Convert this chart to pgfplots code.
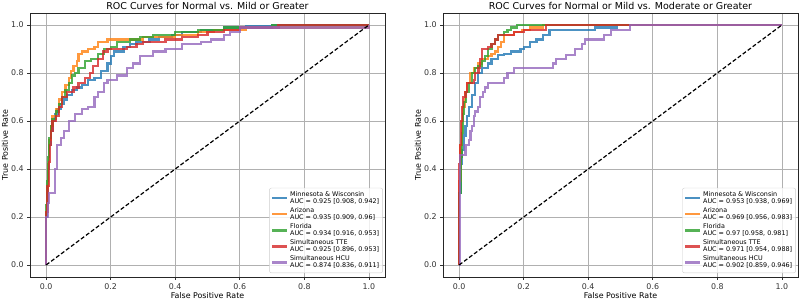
\documentclass[border=0pt]{standalone}
\usepackage{pgfplots}
\pgfplotsset{compat=1.18}
\usepackage{fontspec}
\setmainfont{DejaVu Sans}
\definecolor{tabblue}{HTML}{1F77B4}
\definecolor{taborange}{HTML}{FF7F0E}
\definecolor{tabgreen}{HTML}{2CA02C}
\definecolor{tabred}{HTML}{D62728}
\definecolor{tabpurple}{HTML}{9467BD}
\definecolor{gridgray}{HTML}{B0B0B0}
\begin{document}
\begin{tikzpicture}
\pgfplotsset{rocaxis/.style={
  scale only axis, width=355pt, height=264pt,
  xmin=-0.05, xmax=1.05, ymin=-0.05, ymax=1.05,
  xtick={0,0.2,0.4,0.6,0.8,1}, ytick={0,0.2,0.4,0.6,0.8,1},
  /pgf/number format/assume math mode=true,
  xticklabel style={/pgf/number format/.cd, fixed, fixed zerofill, precision=1},
  yticklabel style={/pgf/number format/.cd, fixed, fixed zerofill, precision=1},
  tick label style={font=\fontsize{7.9}{9}\selectfont, text=black!80},
  tick align=outside, major tick length=2.8pt,
  tick style={black!80, line width=0.6pt},
  xtick pos=bottom, ytick pos=left,
  grid=major, major grid style={gridgray, line width=0.7pt},
  axis line style={black!85, line width=0.8pt},
  every axis title shift=0pt,
  title style={font=\fontsize{9.5}{11}\selectfont, at={(axis description cs:0.5,1)}, anchor=center, yshift=7pt},
  xlabel style={font=\fontsize{7.9}{9}\selectfont, at={(axis description cs:0.5,-0.072)}, anchor=center},
  ylabel style={font=\fontsize{7.9}{9}\selectfont, at={(axis description cs:-0.0704,0.5)}, anchor=center},
  xlabel={False Positive Rate}, ylabel={True Positive Rate},
  legend style={at={(axis description cs:0.994,0.015)}, anchor=south east,
    draw=black!20, rounded corners=2pt, fill=white, fill opacity=0.8, text opacity=1,
    font=\fontsize{6.4}{7.2}\selectfont, cells={align=left, anchor=west},
    inner sep=1.5pt, row sep=-1.5pt},
  legend image code/.code={\draw[#1, line width=2.2pt] (0pt,0pt) -- (15pt,0pt);},
  every axis plot/.append style={line width=2.2pt, opacity=0.8, const plot mark left},
}}
\begin{axis}[rocaxis, title={ROC Curves for Normal vs. Mild or Greater}]
\addplot[tabblue] coordinates {(0,0)(0,0.2)(0.003,0.3)(0.006,0.4)(0.01,0.5)(0.015,0.56)(0.02,0.6)(0.028,0.63)(0.035,0.65)(0.045,0.67)(0.055,0.69)(0.065,0.71)(0.08,0.73)(0.095,0.74)(0.11,0.75)(0.13,0.77)(0.15,0.78)(0.17,0.81)(0.19,0.84)(0.2,0.87)(0.21,0.89)(0.24,0.91)(0.26,0.92)(0.28,0.93)(0.32,0.94)(0.35,0.95)(0.39,0.96)(0.42,0.97)(0.48,0.98)(0.55,0.99)(0.62,0.995)(0.7,1.0)(1,1)};
\addlegendentry{Minnesota \& Wisconsin\\AUC = 0.925 [0.908, 0.942]}
\addplot[taborange] coordinates {(0,0)(0,0.22)(0.003,0.32)(0.006,0.42)(0.01,0.52)(0.015,0.58)(0.02,0.62)(0.03,0.65)(0.04,0.69)(0.05,0.72)(0.06,0.75)(0.07,0.78)(0.078,0.81)(0.085,0.83)(0.095,0.85)(0.1,0.88)(0.11,0.89)(0.13,0.9)(0.15,0.91)(0.16,0.93)(0.19,0.94)(0.3,0.95)(0.4,0.96)(0.47,0.97)(0.52,0.98)(0.62,0.99)(1,0.99)(1,1)};
\addlegendentry{Arizona\\AUC = 0.935 [0.909, 0.96]}
\addplot[tabgreen] coordinates {(0,0)(0,0.25)(0.003,0.35)(0.006,0.45)(0.01,0.53)(0.015,0.58)(0.02,0.61)(0.03,0.64)(0.04,0.67)(0.05,0.7)(0.06,0.73)(0.07,0.76)(0.08,0.79)(0.09,0.8)(0.1,0.82)(0.12,0.85)(0.14,0.86)(0.16,0.88)(0.18,0.9)(0.2,0.91)(0.22,0.93)(0.26,0.94)(0.29,0.95)(0.33,0.96)(0.4,0.97)(0.47,0.98)(0.55,0.99)(0.7,1.0)(1,1)};
\addlegendentry{Florida\\AUC = 0.934 [0.916, 0.953]}
\addplot[tabred] coordinates {(0,0)(0,0.22)(0.004,0.33)(0.008,0.43)(0.012,0.5)(0.016,0.56)(0.02,0.6)(0.03,0.62)(0.04,0.66)(0.05,0.7)(0.065,0.72)(0.085,0.74)(0.1,0.76)(0.12,0.78)(0.135,0.8)(0.145,0.83)(0.16,0.86)(0.175,0.89)(0.19,0.9)(0.25,0.91)(0.28,0.92)(0.3,0.93)(0.37,0.94)(0.42,0.95)(0.47,0.96)(0.5,0.97)(0.55,0.98)(0.6,0.99)(0.72,1.0)(1,1)};
\addlegendentry{Simultaneous TTE\\AUC = 0.925 [0.896, 0.953]}
\addplot[tabpurple] coordinates {(0,0)(0,0.2)(0.005,0.26)(0.008,0.3)(0.028,0.4)(0.034,0.5)(0.045,0.53)(0.055,0.56)(0.07,0.6)(0.09,0.63)(0.11,0.65)(0.13,0.66)(0.15,0.7)(0.16,0.72)(0.18,0.76)(0.19,0.77)(0.22,0.79)(0.25,0.82)(0.27,0.84)(0.29,0.87)(0.33,0.89)(0.37,0.9)(0.42,0.92)(0.48,0.93)(0.51,0.94)(0.55,0.96)(0.57,0.97)(0.6,0.99)(1,0.995)(1,1)};
\addlegendentry{Simultaneous HCU\\AUC = 0.874 [0.836, 0.911]}
\addplot[black, line width=1.2pt, opacity=1, dash pattern=on 4pt off 2.2pt, sharp plot, forget plot] coordinates {(0,0)(1,1)};
\end{axis}
\begin{axis}[rocaxis, at={(413pt,0pt)}, anchor=south west, title={ROC Curves for Normal or Mild vs. Moderate or Greater}]
\addplot[tabblue] coordinates {(0,0)(0,0.3)(0.005,0.42)(0.01,0.48)(0.015,0.54)(0.02,0.58)(0.025,0.62)(0.03,0.66)(0.04,0.71)(0.05,0.76)(0.058,0.8)(0.07,0.82)(0.09,0.84)(0.1,0.86)(0.12,0.875)(0.14,0.88)(0.16,0.89)(0.19,0.9)(0.2,0.91)(0.22,0.93)(0.24,0.94)(0.26,0.96)(0.28,0.98)(0.42,0.99)(0.49,1.0)(1,1)};
\addlegendentry{Minnesota \& Wisconsin\\AUC = 0.953 [0.938, 0.969]}
\addplot[taborange] coordinates {(0,0)(0,0.35)(0.004,0.5)(0.008,0.6)(0.012,0.66)(0.018,0.72)(0.025,0.76)(0.034,0.8)(0.045,0.82)(0.058,0.84)(0.07,0.86)(0.09,0.87)(0.1,0.88)(0.11,0.89)(0.12,0.91)(0.13,0.93)(0.14,0.96)(0.17,0.97)(0.195,0.98)(0.22,0.99)(0.26,1.0)(1,1)};
\addlegendentry{Arizona\\AUC = 0.969 [0.956, 0.983]}
\addplot[tabgreen] coordinates {(0,0)(0,0.3)(0.004,0.45)(0.008,0.55)(0.012,0.63)(0.016,0.68)(0.022,0.72)(0.03,0.76)(0.04,0.8)(0.05,0.82)(0.06,0.83)(0.07,0.85)(0.08,0.87)(0.09,0.9)(0.1,0.92)(0.11,0.94)(0.12,0.96)(0.14,0.97)(0.15,0.98)(0.16,0.99)(0.18,1.0)(1,1)};
\addlegendentry{Florida\\AUC = 0.97 [0.958, 0.981]}
\addplot[tabred] coordinates {(0,0)(0,0.42)(0.003,0.5)(0.006,0.6)(0.01,0.66)(0.013,0.7)(0.02,0.72)(0.025,0.76)(0.045,0.77)(0.05,0.8)(0.06,0.82)(0.065,0.86)(0.07,0.9)(0.09,0.91)(0.1,0.92)(0.11,0.94)(0.12,0.96)(0.17,0.97)(0.2,0.98)(0.27,1.0)(1,1)};
\addlegendentry{Simultaneous TTE\\AUC = 0.971 [0.954, 0.988]}
\addplot[tabpurple] coordinates {(0,0)(0.003,0.46)(0.02,0.5)(0.03,0.52)(0.035,0.56)(0.04,0.58)(0.045,0.62)(0.05,0.64)(0.058,0.66)(0.065,0.7)(0.075,0.72)(0.08,0.74)(0.09,0.76)(0.14,0.78)(0.15,0.8)(0.17,0.82)(0.29,0.84)(0.3,0.86)(0.33,0.875)(0.36,0.9)(0.38,0.92)(0.39,0.94)(0.45,0.96)(0.47,0.98)(0.53,1.0)(1,1)};
\addlegendentry{Simultaneous HCU\\AUC = 0.902 [0.859, 0.946]}
\addplot[black, line width=1.2pt, opacity=1, dash pattern=on 4pt off 2.2pt, sharp plot, forget plot] coordinates {(0,0)(1,1)};
\end{axis}
\pgfresetboundingbox
\path (-30pt,-24pt) rectangle (770pt,277pt);
\end{tikzpicture}
\end{document}
